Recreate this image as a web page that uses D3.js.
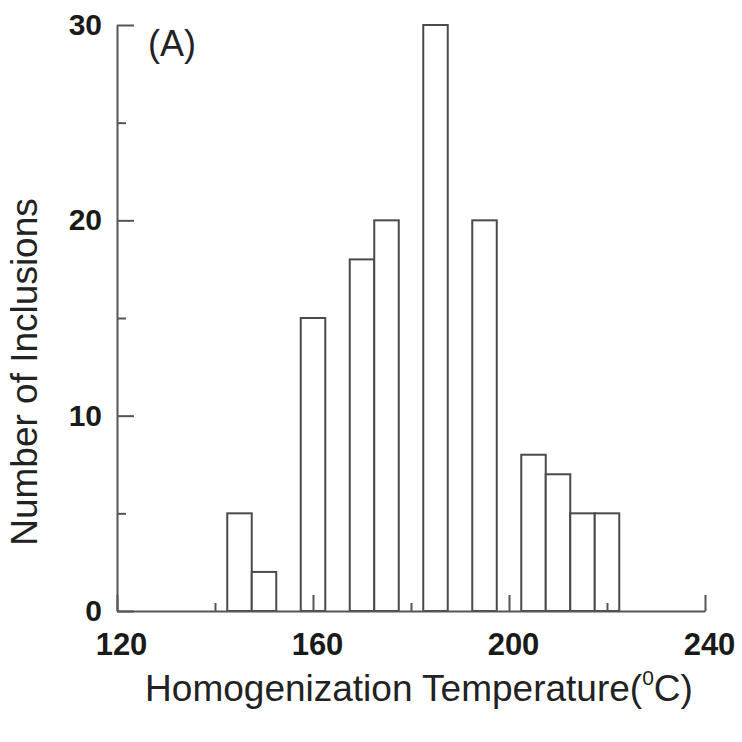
<!DOCTYPE html>
<html>
<head>
<meta charset="utf-8">
<script src="https://cdn.jsdelivr.net/npm/d3@7"></script>
<style>
  html, body { margin: 0; padding: 0; background: #fff; }
  svg { display: block; }
</style>
</head>
<body>
<svg id="chart" width="742" height="742"></svg>
<script>
// Data
const binCenters = [145, 150, 160, 170, 175, 185, 195, 205, 210, 215, 220];
const counts     = [5, 2, 15, 18, 20, 30, 20, 8, 7, 5, 5];
const binWidth = 5;
const xMajorTicks = [120, 160, 200, 240];
const xMinorTicks = [140, 180, 220];
const yMajorTicks = [0, 10, 20, 30];
const yMinorTicks = [5, 15, 25];
const xTitle = "Homogenization Temperature(";
const yTitle = "Number of Inclusions";
const panelLabel = "(A)";

const svg = d3.select("#chart");
const axisColor = "#555";
const plotLeft = 117, plotRight = 705, plotTop = 25, plotBottom = 611;

const x = d3.scaleLinear().domain([120, 240]).range([plotLeft, plotRight]);
const y = d3.scaleLinear().domain([0, 30]).range([plotBottom, plotTop]);

// Bars
const bars = binCenters.map((c, i) => ({ c, n: counts[i] }));
svg.append("g").selectAll("rect").data(bars).join("rect")
  .attr("x", d => x(d.c - binWidth / 2))
  .attr("width", d => x(d.c + binWidth / 2) - x(d.c - binWidth / 2))
  .attr("y", d => y(d.n))
  .attr("height", d => y(0) - y(d.n))
  .attr("fill", "#fff")
  .attr("stroke", "#4a4a4a")
  .attr("stroke-width", 2);

function styleAxis(g) {
  g.selectAll("path.domain").attr("stroke", axisColor).attr("stroke-width", 2);
  g.selectAll(".tick line").attr("stroke", axisColor).attr("stroke-width", 2);
}

// X axis major
const gx = svg.append("g").attr("transform", `translate(0,${plotBottom})`)
  .call(d3.axisBottom(x).tickValues(xMajorTicks).tickSizeInner(-16).tickSizeOuter(0)
        .tickPadding(22).tickFormat(d3.format("d")));
styleAxis(gx);
gx.selectAll(".tick text")
  .attr("font-family", "'Liberation Sans', Arial, sans-serif")
  .attr("font-weight", "bold").attr("font-size", 31).attr("fill", "#1a1a1a")
  .attr("dx", 4);
// X axis minor
const gxm = svg.append("g").attr("transform", `translate(0,${plotBottom})`)
  .call(d3.axisBottom(x).tickValues(xMinorTicks).tickSizeInner(-8).tickSizeOuter(0).tickFormat(""));
styleAxis(gxm);
gxm.select("path.domain").remove();

// Y axis major
const gy = svg.append("g").attr("transform", `translate(${plotLeft},0)`)
  .call(d3.axisLeft(y).tickValues(yMajorTicks).tickSizeInner(-17).tickSizeOuter(0)
        .tickPadding(15).tickFormat(d3.format("d")));
styleAxis(gy);
gy.selectAll(".tick text")
  .attr("font-family", "'Liberation Sans', Arial, sans-serif")
  .attr("font-weight", "bold").attr("font-size", 30).attr("fill", "#1a1a1a");
// Y axis minor
const gym = svg.append("g").attr("transform", `translate(${plotLeft},0)`)
  .call(d3.axisLeft(y).tickValues(yMinorTicks).tickSizeInner(-9).tickSizeOuter(0).tickFormat(""));
styleAxis(gym);
gym.select("path.domain").remove();

// Axis titles
const xt = svg.append("text")
  .attr("x", 419).attr("y", 701)
  .attr("text-anchor", "middle")
  .attr("font-family", "'Liberation Sans', Arial, sans-serif")
  .attr("font-size", 37).attr("fill", "#222");
xt.append("tspan").text(xTitle);
xt.append("tspan").attr("font-size", 21).attr("dy", -16).text("0");
xt.append("tspan").attr("dy", 16).text("C)");

svg.append("text")
  .attr("transform", "translate(37,372) rotate(-90)")
  .attr("text-anchor", "middle")
  .attr("font-family", "'Liberation Sans', Arial, sans-serif")
  .attr("font-size", 37).attr("fill", "#222")
  .text(yTitle);

// Panel label
svg.append("text")
  .attr("x", 148).attr("y", 56)
  .attr("font-family", "'Liberation Sans', Arial, sans-serif")
  .attr("font-size", 36).attr("fill", "#222")
  .text(panelLabel);
</script>
</body>
</html>
